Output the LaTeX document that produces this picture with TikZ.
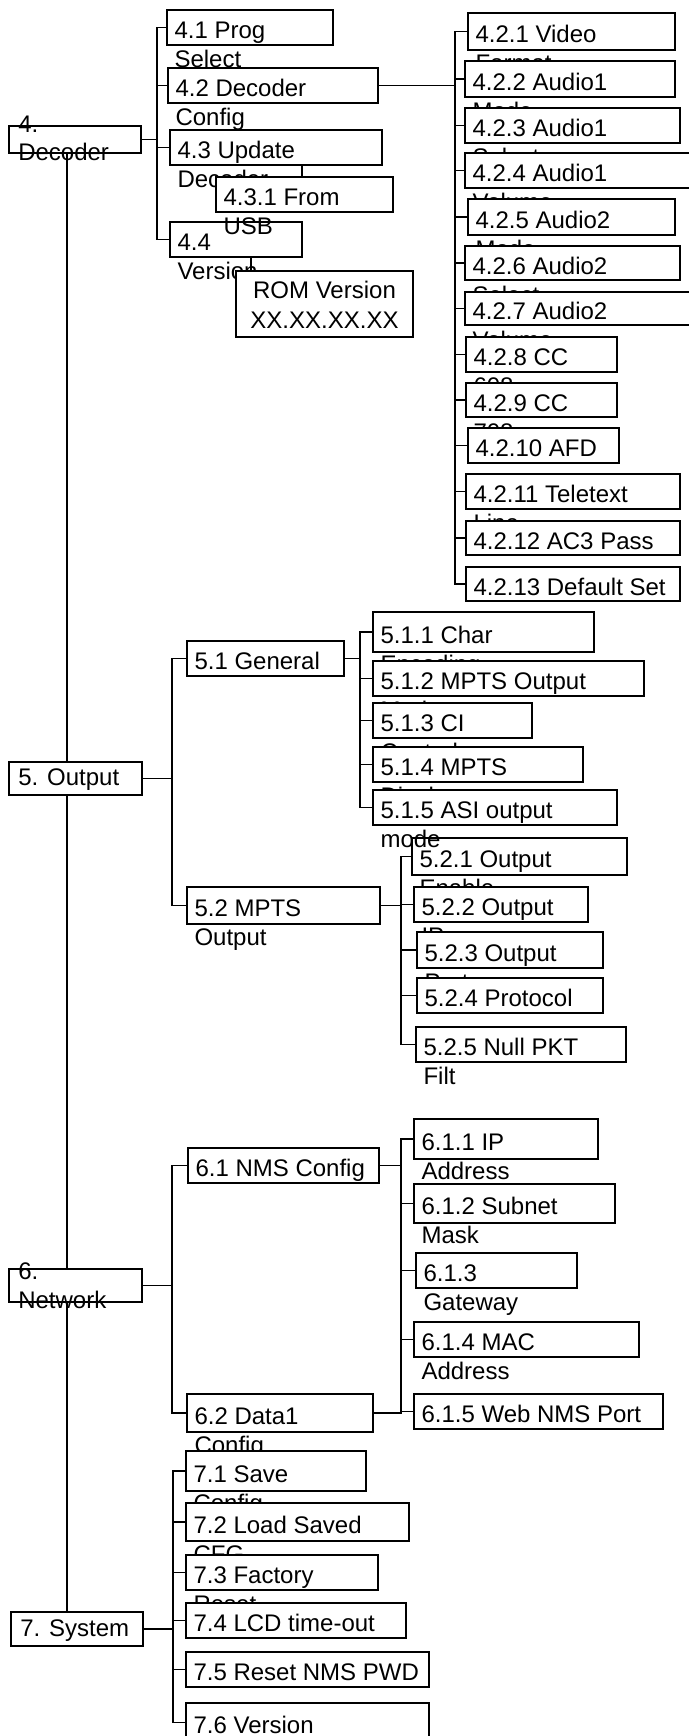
\documentclass[tikz,border=0pt]{standalone}
\usepackage{fontspec}
\setmainfont{Liberation Sans}
\usetikzlibrary{backgrounds}
\tikzset{
  menubox/.style={draw, fill=white, line width=1.1pt, rectangle, inner sep=0pt},
  txt/.style={inner sep=0pt, anchor=base west, font=\fontsize{18}{21}\selectfont},
  ctxt/.style={inner sep=0pt, anchor=base, font=\fontsize{18}{21}\selectfont},
  conn/.style={line width=1.1pt, line cap=rect}
}
\newcommand\boxone[6]{%
  \node[menubox, minimum width={(#4-#2)*0.75pt}, minimum height={(#5-#3)*0.75pt}] (#1) at ({(#2+#4)/2},{(#3+#5)/2}) {};
  \node[txt] (#1t) at ([shift={(8,11)}]#1.west) {#6};
}
\newcommand\boxtwo[7]{%
  \boxone{#1}{#2}{#3}{#4}{#5}{#6}%
  \node[txt] (#1u) at ([shift={(8,40)}]#1.west) {#7};
}
\begin{document}
\begin{tikzpicture}[x=0.75pt,y=-0.75pt]
\useasboundingbox (0,0) rectangle (689,1736);
\coordinate (tx) at (67,0);
\coordinate (x4) at (157,0);
\coordinate (x42) at (455,0);
\coordinate (x431) at (302,0);
\coordinate (x44) at (251,0);
\coordinate (x5) at (172,0);
\coordinate (x51) at (360,0);
\coordinate (x52) at (401,0);
\coordinate (x6) at (172,0);
\coordinate (x61) at (401,0);
\coordinate (x7) at (173,0);

% ---- level 1 ----
\node[menubox, minimum width={132*0.75pt}, minimum height={27*0.75pt}] (d4) at (75,139.5) {};
\node[txt] (d4a) at (18,132) {4.};
\node[txt] (d4b) at (18,160) {Decoder};
\node[menubox, minimum width={133*0.75pt}, minimum height={33*0.75pt}] (d5) at (75.5,778.5) {};
\node[txt] (d5a) at (18,785) {5. Output};
\node[menubox, minimum width={133*0.75pt}, minimum height={33*0.75pt}] (d6) at (75.5,1285.5) {};
\node[txt] (d6a) at (18,1279) {6.};
\node[txt] (d6b) at (18,1308) {Network};
\node[menubox, minimum width={132*0.75pt}, minimum height={34*0.75pt}] (d7) at (77,1629) {};
\node[txt] (d7a) at (20,1636) {7. System};

% ---- 4.x ----
\boxtwo{n41}{167}{10}{333}{45}{4.1 Prog}{Select}
\boxtwo{n42}{168}{68}{378}{103}{4.2 Decoder}{Config}
\boxtwo{n43}{170}{130}{382}{165}{4.3 Update}{Decoder}
\boxtwo{n44}{170}{222}{302}{257}{4.4}{Version}
\boxtwo{n431}{216}{177}{393}{212}{4.3.1 From}{USB}
\node[menubox, minimum width={177*0.75pt}, minimum height={66*0.75pt}] (rom) at (324.5,304) {};
\node[ctxt] (roma) at (324.5,298) {ROM Version};
\node[ctxt] (romb) at (324.5,328) {XX.XX.XX.XX};

\boxtwo{n421}{468}{13}{675}{50}{4.2.1 Video}{Format}
\boxtwo{n422}{465}{61}{675}{97}{4.2.2 Audio1}{Mode}
\boxtwo{n423}{465}{108}{680}{143}{4.2.3 Audio1}{Select}
\boxtwo{n424}{465}{153}{700}{188}{4.2.4 Audio1}{Volume}
\boxtwo{n425}{468}{199}{675}{235}{4.2.5 Audio2}{Mode}
\boxtwo{n426}{465}{246}{680}{280}{4.2.6 Audio2}{Select}
\boxtwo{n427}{465}{292}{700}{325}{4.2.7 Audio2}{Volume}
\boxtwo{n428}{466}{337}{617}{372}{4.2.8 CC}{608}
\boxtwo{n429}{466}{383}{617}{417}{4.2.9 CC}{708}
\boxone{n4210}{468}{428}{619}{463}{4.2.10 AFD}
\boxtwo{n4211}{466}{474}{680}{509}{4.2.11 Teletext}{Line}
\boxone{n4212}{466}{521}{680}{555}{4.2.12 AC3 Pass}
\boxone{n4213}{466}{567}{680}{601}{4.2.13 Default Set}

% ---- 5.x ----
\boxone{n51}{187}{641}{344}{676}{5.1 General}
\boxtwo{n52}{187}{887}{380}{924}{5.2 MPTS}{Output}
\boxtwo{n521}{412}{838}{627}{875}{5.2.1 Output}{Enable}
\boxtwo{n522}{414}{887}{588}{922}{5.2.2 Output}{IP}
\boxtwo{n523}{417}{932}{603}{968}{5.2.3 Output}{Port}
\boxone{n524}{417}{978}{603}{1013}{5.2.4 Protocol}
\boxtwo{n525}{416}{1027}{626}{1062}{5.2.5 Null PKT}{Filt}
\boxtwo{n511}{373}{612}{594}{652}{5.1.1 Char}{Encoding}
\boxtwo{n512}{373}{661}{644}{696}{5.1.2 MPTS Output}{Mode}
\boxtwo{n513}{373}{703}{532}{738}{5.1.3 CI}{Control}
\boxtwo{n514}{373}{747}{583}{782}{5.1.4 MPTS}{Display}
\boxtwo{n515}{373}{790}{617}{825}{5.1.5 ASI output}{mode}

% ---- 6.x ----
\boxone{n61}{188}{1148}{379}{1183}{6.1 NMS Config}
\boxtwo{n611}{414}{1119}{598}{1159}{6.1.1 IP}{Address}
\boxtwo{n612}{414}{1184}{615}{1223}{6.1.2 Subnet}{Mask}
\boxtwo{n613}{416}{1253}{577}{1288}{6.1.3}{Gateway}
\boxtwo{n614}{414}{1322}{639}{1357}{6.1.4 MAC}{Address}
\boxone{n615}{414}{1394}{663}{1429}{6.1.5 Web NMS Port}
\boxtwo{n62}{187}{1394}{373}{1432}{6.2 Data1}{Config}

% ---- 7.x ----
\boxtwo{n71}{186}{1451}{366}{1491}{7.1 Save}{Config}
\boxtwo{n72}{186}{1503}{409}{1541}{7.2 Load Saved}{CFG}
\boxtwo{n73}{186}{1555}{378}{1590}{7.3 Factory}{Reset}
\boxone{n74}{186}{1603}{406}{1638}{7.4 LCD time-out}
\boxone{n75}{186}{1652}{429}{1687}{7.5 Reset NMS PWD}
\boxone{n76}{186}{1703}{429}{1742}{7.6 Version}

% ---- connectors ----
\begin{pgfonlayer}{background}
% trunk
\draw[conn] (d4.south -| tx) -- (d5.north -| tx);
\draw[conn] (d5.south -| tx) -- (d6.north -| tx);
\draw[conn] (d6.south -| tx) -- (d7.north -| tx);
% 4.x
\draw[conn] (d4.east) -- (d4.east -| x4);
\draw[conn] (n41.west) -- (n41.west -| x4) -- (n44.west -| x4) -- (n44.west);
\draw[conn] (n42.west) -- (n42.west -| x4);
\draw[conn] (n43.west) -- (n43.west -| x4);
\draw[conn] (n43.south -| x431) -- (n431.north -| x431);
\draw[conn] (n44.south -| x44) -- (rom.north -| x44);
\draw[conn] (n42.east) -- (n42.east -| x42);
\draw[conn] (n421.west) -- (n421.west -| x42) -- (n4213.west -| x42) -- (n4213.west);
\foreach \c in {n422,n423,n424,n425,n426,n427,n428,n429,n4210,n4211,n4212}
  \draw[conn] (\c.west) -- (\c.west -| x42);
% 5.x
\draw[conn] (d5.east) -- (d5.east -| x5);
\draw[conn] (n51.west) -- (n51.west -| x5) -- (n52.west -| x5) -- (n52.west);
\draw[conn] (n51.east) -- (n51.east -| x51);
\draw[conn] (n511.west) -- (n511.west -| x51) -- (n515.west -| x51) -- (n515.west);
\foreach \c in {n512,n513,n514}
  \draw[conn] (\c.west) -- (\c.west -| x51);
\draw[conn] (n52.east) -- (n52.east -| x52);
\draw[conn] (n521.west) -- (n521.west -| x52) -- (n525.west -| x52) -- (n525.west);
\foreach \c in {n522,n523,n524}
  \draw[conn] (\c.west) -- (\c.west -| x52);
% 6.x
\draw[conn] (d6.east) -- (d6.east -| x6);
\draw[conn] (n61.west) -- (n61.west -| x6) -- (n62.west -| x6) -- (n62.west);
\draw[conn] (n61.east) -- (n61.east -| x61);
\draw[conn] (n611.west) -- (n611.west -| x61) -- (n615.west -| x61) -- (n615.west);
\foreach \c in {n612,n613,n614}
  \draw[conn] (\c.west) -- (\c.west -| x61);
\draw[conn] (n62.east) -- (n62.east -| x61);
% 7.x
\draw[conn] (d7.east) -- (d7.east -| x7);
\draw[conn] (n71.west) -- (n71.west -| x7) -- (n76.west -| x7) -- (n76.west);
\foreach \c in {n72,n73,n74,n75}
  \draw[conn] (\c.west) -- (\c.west -| x7);
\end{pgfonlayer}
\end{tikzpicture}
\end{document}
